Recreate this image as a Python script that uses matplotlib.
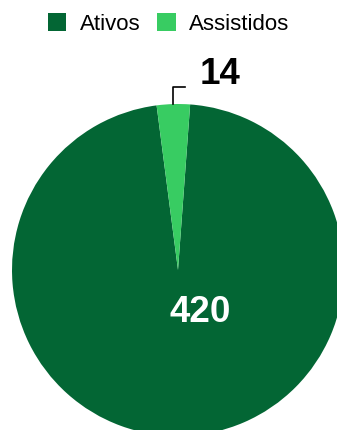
import numpy as np
import matplotlib.pyplot as plt
from matplotlib.patches import Patch

categorias = ['Ativos', 'Assistidos']
valores = [420, 14]
cores = ['#036634', '#38CC62']

plt.rcParams['font.family'] = ['Liberation Sans', 'DejaVu Sans']

W, H = 337, 430
fig = plt.figure(figsize=(W / 100, H / 100), dpi=100)
ax = fig.add_axes([0, 0, 1, 1])

centro = (178, H - 270)
raio = 166
inicio = 85.8

wedges, _ = ax.pie(valores, colors=cores, startangle=inicio, counterclock=False,
                   center=centro, radius=raio)
ax.set_xlim(0, W)
ax.set_ylim(0, H)
ax.set_aspect('equal')
ax.axis('off')

# rótulo da fatia grande (dentro)
ax.text(200, H - 312, str(valores[0]), color='white', fontsize=26.5,
        fontweight='bold', ha='center', va='center')

# rótulo da fatia pequena com linha de chamada
w = wedges[1]
ang = np.deg2rad((w.theta1 + w.theta2) / 2)
x0 = centro[0] + raio * np.cos(ang)
y0 = centro[1] + raio * np.sin(ang)
ax.plot([x0, x0, x0 + 12], [y0, y0 + 17, y0 + 17], color='black', lw=1.2)
ax.text(220, H - 75, str(valores[1]), color='black', fontsize=26.5,
        fontweight='bold', ha='center', va='center')

handles = [Patch(facecolor=c, label=l) for c, l in zip(cores, categorias)]
ax.legend(handles=handles, loc='center', bbox_to_anchor=(0.5, 1 - 24 / H),
          ncol=2, frameon=False, fontsize=16, handlelength=0.85,
          handleheight=0.85, handletextpad=0.6, columnspacing=0.75)

fig.savefig('out.png', dpi=100)
